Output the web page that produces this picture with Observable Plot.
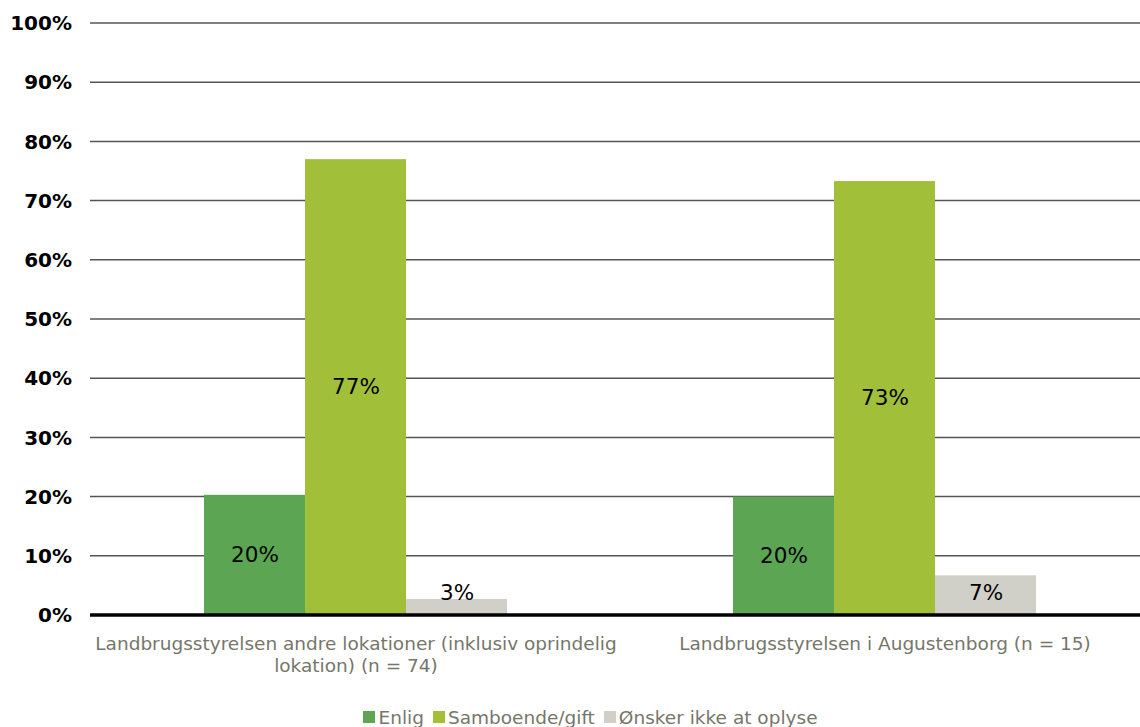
<!DOCTYPE html>
<html><head><meta charset="utf-8">
<script src="https://cdn.jsdelivr.net/npm/d3@7"></script>
<script src="https://cdn.jsdelivr.net/npm/@observablehq/plot@0.6"></script>
<style>
body{margin:0;background:#fff;font-family:"DejaVu Sans",Verdana,sans-serif;overflow:hidden}
#legend{box-sizing:border-box;width:1140px;padding-left:50px;height:54px;display:flex;justify-content:center;align-items:center;font-size:18.5px;color:#76766a}
#legend .item{display:flex;align-items:center;margin-right:9px}
#legend .sw{display:inline-block;width:12px;height:12px;margin-right:3px}
</style></head><body><div id="chart"></div><div id="legend"></div>
<script>
const groups = ["Landbrugsstyrelsen andre lokationer (inklusiv oprindelig lokation) (n = 74)", "Landbrugsstyrelsen i Augustenborg (n = 15)"];
const groupLabels = ["Landbrugsstyrelsen andre lokationer (inklusiv oprindelig\nlokation) (n = 74)", "Landbrugsstyrelsen i Augustenborg (n = 15)"];
const series = ["Enlig", "Samboende/gift", "Ønsker ikke at oplyse"];
const colors = ["#5ba553", "#a1bf38", "#d0d0c8"];
const valuesGroup1 = [20.3, 77.0, 2.7];
const valuesGroup2 = [20.0, 73.3, 6.7];
const yTicks = [0, 10, 20, 30, 40, 50, 60, 70, 80, 90, 100];

const data = [];
[valuesGroup1, valuesGroup2].forEach((vals, gi) => {
  vals.forEach((v, si) => data.push({group: groups[gi], series: series[si], value: v}));
});

const W = 1140, H = 690, ML = 90, MR = 0;

// grid lines and y tick labels spanning the whole frame (drawn with the y scale)
const gridMark = Plot.frame({facet: "super", stroke: "none", render: (index, scales) => {
  const y = scales.y;
  const g = d3.create("svg:g");
  g.selectAll("line").data(yTicks.filter(t => t > 0)).join("line")
    .attr("x1", ML).attr("x2", W - MR)
    .attr("y1", d => y(d)).attr("y2", d => y(d))
    .attr("stroke", "#555").attr("stroke-width", 1.5);
  g.selectAll("text").data(yTicks).join("text")
    .attr("x", ML - 18).attr("y", d => y(d)).attr("dy", "0.36em")
    .attr("text-anchor", "end").attr("font-size", 20).attr("font-weight", "bold").attr("fill", "#000")
    .text(d => d + "%");
  return g.node();
}});

const baseMark = Plot.frame({facet: "super", stroke: "none", render: (index, scales) => {
  const y = scales.y;
  const g = d3.create("svg:g");
  g.append("line")
    .attr("x1", ML).attr("x2", W - MR)
    .attr("y1", y(0)).attr("y2", y(0))
    .attr("stroke", "#000").attr("stroke-width", 3.5);
  return g.node();
}});

const chart = Plot.plot({
  width: W, height: H,
  marginLeft: ML, marginRight: MR, marginTop: 23, marginBottom: 75,
  style: {fontFamily: "'DejaVu Sans', Verdana, sans-serif", background: "#fff", overflow: "visible"},
  fx: {domain: groups, paddingInner: 0.4226, paddingOuter: 0.2019, align: 0.523, axis: null},
  x: {domain: series, padding: 0, axis: null},
  y: {domain: [0, 100], axis: null},
  color: {domain: series, range: colors},
  marks: [
    gridMark,
    Plot.barY(data, {fx: "group", x: "series", y: "value", fill: "series"}),
    Plot.text(data, {fx: "group", x: "series", y: d => Math.max(d.value / 2, 3.8), text: d => Math.round(d.value) + "%", fontSize: 21.5, fill: "#000"}),
    Plot.axisFx({anchor: "bottom", tickSize: 0, tickPadding: 19, tickFormat: d => groupLabels[groups.indexOf(d)], fontSize: 18.5, lineHeight: 1.19, fill: "#76766a", label: null}),
    baseMark
  ]
});
document.getElementById("chart").appendChild(chart);

const legend = document.getElementById("legend");
series.forEach((s, i) => {
  const item = document.createElement("span");
  item.className = "item";
  const sw = document.createElement("span");
  sw.className = "sw";
  sw.style.background = colors[i];
  item.appendChild(sw);
  item.appendChild(document.createTextNode(s));
  legend.appendChild(item);
});
</script>
</body></html>
